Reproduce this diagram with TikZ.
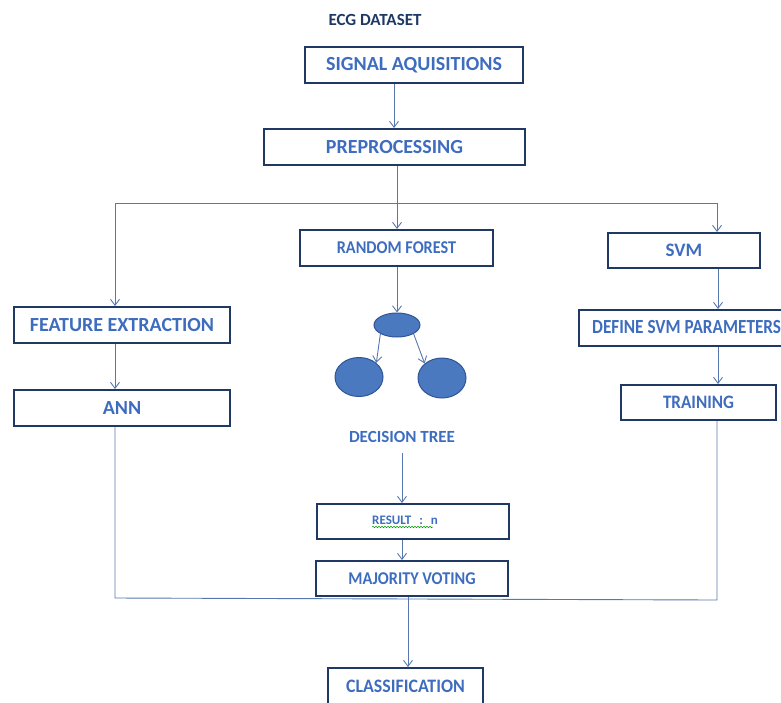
\documentclass[tikz,border=0pt]{standalone}
\usepackage{fontspec}
\setmainfont{Carlito}
\usetikzlibrary{arrows.meta,decorations.pathmorphing,shapes.geometric}
\definecolor{navy}{HTML}{1F3864}
\definecolor{txtblue}{HTML}{3E6DBF}
\definecolor{linecol}{HTML}{5877AE}
\definecolor{fillblue}{HTML}{4A79C0}
\definecolor{leafedge}{HTML}{2F5597}
\tikzset{
  box/.style={draw=navy, line width=2pt, fill=white, inner sep=0pt, anchor=north west},
  lbl/.style={text=txtblue, inner sep=0pt},
  conn/.style={draw=linecol, line width=0.9pt},
  arr/.style={conn, -{Straight Barb[length=6pt,width=9pt,line width=0.9pt]}},
  leaf/.style={ellipse, draw=leafedge, line width=1pt, fill=fillblue, inner sep=0pt}
}
\newcommand{\fsz}[1]{\bfseries\fontsize{#1}{#1}\selectfont}
\begin{document}
\begin{tikzpicture}[x=1pt,y=-1pt]
\useasboundingbox (0,0) rectangle (781,702);
% boxes
\node[box, minimum width=218pt, minimum height=36pt] (sig) at (304,46) {};
\node[box, minimum width=261pt, minimum height=36pt] (pre) at (263,128) {};
\node[box, minimum width=193pt, minimum height=36pt] (rf) at (299,229) {};
\node[box, minimum width=152pt, minimum height=35pt] (svm) at (607,232) {};
\node[box, minimum width=216pt, minimum height=36pt] (fe) at (13,306) {};
\node[box, minimum width=216pt, minimum height=36pt] (ann) at (13,389) {};
\node[box, minimum width=204pt, minimum height=36pt] (def) at (578,309) {};
\node[box, minimum width=155pt, minimum height=35pt] (trn) at (620,384) {};
\node[box, minimum width=192pt, minimum height=35pt] (res) at (316,503) {};
\node[box, minimum width=192pt, minimum height=35pt] (maj) at (315,560) {};
\node[box, minimum width=155pt, minimum height=36pt] (cls) at (327,667) {};
% labels
\node[lbl, text=navy, font=\fsz{17}] (ecg) at (375,20) {ECG DATASET};
\node[lbl, font=\fsz{20}] (tsig) at (sig.center) {SIGNAL AQUISITIONS};
\node[lbl, font=\fsz{20}] (tpre) at (pre.center) {PREPROCESSING};
\node[lbl, font=\fsz{18}, xscale=0.9] (trf) at (rf.center) {RANDOM FOREST};
\node[lbl, font=\fsz{19}] (tsvm) at (svm.center) {SVM};
\node[lbl, font=\fsz{20}] (tfe) at (fe.center) {FEATURE EXTRACTION};
\node[lbl, font=\fsz{20}] (tann) at (ann.center) {ANN};
\node[lbl, font=\fsz{20}, xscale=0.86, anchor=west] (tdef) at (592,327) {DEFINE SVM PARAMETERS};
\node[lbl, font=\fsz{19}, xscale=0.9] (ttrn) at (trn.center) {TRAINING};
\node[lbl, font=\fsz{13}, anchor=west] (tres) at (372,520.5) {RESULT\hspace{8pt}:\hspace{8pt}n};
\node[lbl, font=\fsz{18}, xscale=0.9] (tmaj) at (maj.center) {MAJORITY VOTING};
\node[lbl, font=\fsz{19}, xscale=0.94] (tcls) at (cls.center) {CLASSIFICATION};
\node[lbl, font=\fsz{17}] (tdt) at (402,437) {DECISION TREE};
% wavy underline
\draw[green!60!black, line width=0.5pt, decorate, decoration={snake, amplitude=0.8pt, segment length=3pt}] (372,527) -- (433,527);
% tree
\node[leaf, minimum width=46pt, minimum height=24pt] (root) at (397,325) {};
\node[leaf, minimum width=48pt, minimum height=39pt] (left) at (359,377) {};
\node[leaf, minimum width=48pt, minimum height=40pt] (right) at (442,378) {};
% connectors
\draw[arr] (sig.south -| 394,0) -- (pre.north -| 394,0);
\coordinate (split) at (397,203);
\coordinate (sl) at (115,203);
\coordinate (sr) at (717,203);
\draw[conn] (pre.south -| split) -- (split);
\draw[conn] (sl) -- (sr);
\draw[arr] (sl) -- (fe.north -| sl);
\draw[arr] (split) -- (rf.north -| split);
\draw[arr] (sr) -- (svm.north -| sr);
\draw[arr] (fe.south -| sl) -- (ann.north -| sl);
\draw[arr] (svm.south -| 718,0) -- (def.north -| 718,0);
\draw[arr] (def.south -| 718,0) -- (trn.north -| 718,0);
\draw[arr] (rf.south -| 397,0) -- (root.north);
\draw[arr] (root.south west) -- (left.north east);
\draw[arr] (root.south east) -- (right.north west);
\draw[arr] (402,453) -- (res.north -| 402,0);
\draw[arr] (res.south -| 402,0) -- (maj.north -| 402,0);
\coordinate (jl) at (115,598);
\coordinate (jr) at (717,600);
\draw[conn] (ann.south -| jl) -- (jl) -- (jr) -- (trn.south -| jr);
\draw[arr] (maj.south -| 408,0) -- (cls.north -| 408,0);
\end{tikzpicture}
\end{document}
